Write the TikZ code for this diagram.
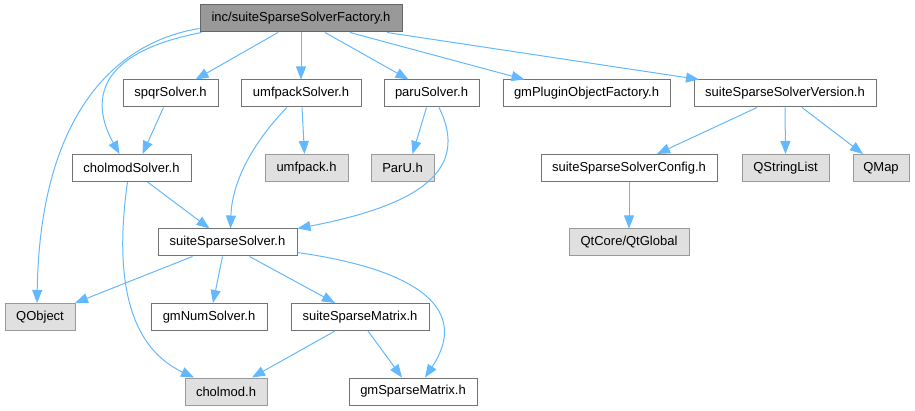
\documentclass[tikz,border=0pt]{standalone}
\usepackage{fontspec}
\setmainfont{Liberation Sans}
\usetikzlibrary{arrows.meta,positioning}
\definecolor{edgeblue}{HTML}{63B8FF}
\begin{document}
\begin{tikzpicture}[x=1pt,y=-1pt,>={Triangle[length=13pt,width=10pt]},
	font=\fontsize{13}{15}\selectfont,
	box/.style={draw=black!55,fill=white,line width=1pt,minimum height=27pt,inner sep=0pt},
	ext/.style={box,draw=black!40,fill=black!12},
	main/.style={box,draw=black!60,fill=black!40},
	edge/.style={->,draw=edgeblue,line width=1pt}]
	\useasboundingbox (0,0) rectangle (915,411);

	\node [main,minimum width=202pt] (factory) at (301,18.5) {inc/suiteSparseSolverFactory.h};

	\node [box,minimum width=95pt]  (spqr)     at (170.5,93.5) {spqrSolver.h};
	\node [box,minimum width=120pt] (umfpackS) at (301,93.5)   {umfpackSolver.h};
	\node [box,minimum width=95pt]  (paru)     at (431.5,93.5) {paruSolver.h};
	\node [box,minimum width=167pt] (plugin)   at (586.5,93.5) {gmPluginObjectFactory.h};
	\node [box,minimum width=182pt] (version)  at (785,93.5)   {suiteSparseSolverVersion.h};

	\node [box,minimum width=119pt] (cholmodS) at (131.5,168) {cholmodSolver.h};
	\node [ext,minimum width=83pt]  (umfpack)  at (306.5,168) {umfpack.h};
	\node [ext,minimum width=63pt]  (parU)     at (402.5,168) {ParU.h};
	\node [box,minimum width=176pt] (config)   at (629,168)   {suiteSparseSolverConfig.h};
	\node [ext,minimum width=87pt]  (qlist)    at (785.5,168) {QStringList};
	\node [ext,minimum width=56pt]  (qmap)     at (881,168)   {QMap};

	\node [box,minimum width=139pt] (solver)   at (227.5,242.5) {suiteSparseSolver.h};
	\node [ext,minimum width=120pt] (qtglobal) at (629,242.5)   {QtCore/QtGlobal};

	\node [ext,minimum width=70pt]  (qobject)  at (40,317)  {QObject};
	\node [box,minimum width=116pt] (numsolver) at (209,317) {gmNumSolver.h};
	\node [box,minimum width=138pt] (matrix)   at (360,317) {suiteSparseMatrix.h};

	\node [ext,minimum width=82pt]  (cholmod)  at (226,391.5) {cholmod.h};
	\node [box,minimum width=128pt] (gmmatrix) at (413,391.5) {gmSparseMatrix.h};

	% straight includes: from/shift/to/shift
	\foreach \a/\sa/\b/\sb in {
		factory/-23/spqr/25, factory/0/umfpackS/0, factory/24/paru/-23,
		factory/49/plugin/-62, factory/86/version/-86,
		spqr/-7/cholmodS/11, umfpackS/1/umfpack/-2, paru/-5/parU/10,
		cholmodS/16/solver/-18, solver/-35/qobject/35, solver/-5/numsolver/4,
		solver/22/matrix/-25, matrix/-25/cholmod/26, matrix/8/gmmatrix/-11,
		version/-28/config/28, version/0/qlist/0, version/17/qmap/-18,
		config/0/qtglobal/0}
		\draw [edge] ([xshift=\sa pt]\a.south) -- ([xshift=\sb pt]\b.north);

	% curved includes
	\draw [edge] ([yshift=-10pt]factory.west) .. controls (115,42) and (40,115) .. ([xshift=-3pt]qobject.north);
	\draw [edge] ([xshift=2pt]factory.south west) .. controls (85,55) and (95,110) .. ([xshift=-12pt]cholmodS.north);
	\draw [edge] ([xshift=-14pt]umfpackS.south) .. controls (255,140) and (232,180) .. ([xshift=3pt]solver.north);
	\draw [edge] ([xshift=7.5pt]paru.south) .. controls (470,170) and (420,205) .. (solver.north east);
	\draw [edge] ([xshift=-4pt]cholmodS.south) .. controls (115,270) and (125,345) .. ([xshift=-32pt]cholmod.north);
	\draw [edge] ([yshift=-10pt]solver.east) .. controls (420,270) and (470,310) .. ([xshift=12pt]gmmatrix.north);
\end{tikzpicture}
\end{document}
